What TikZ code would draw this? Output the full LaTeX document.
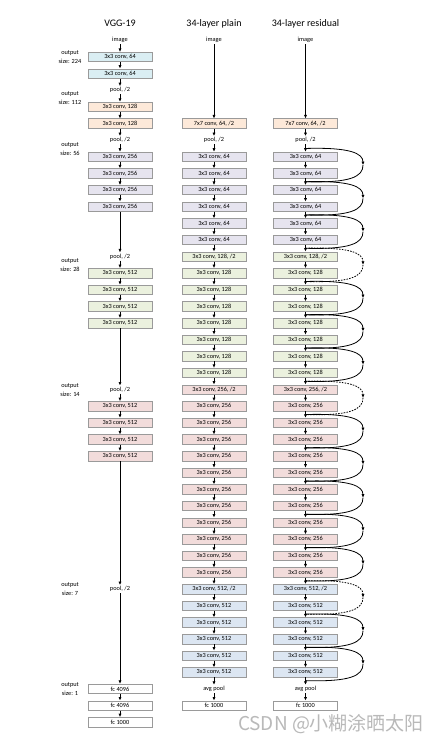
\documentclass[tikz,border=0pt]{standalone}
\usepackage{fontspec}
\setmainfont{Carlito}
\newfontfamily\cjkfont{Noto Sans CJK SC}
\usetikzlibrary{arrows.meta}
\definecolor{cblue}{HTML}{DAEEF3}
\definecolor{cbluetwo}{HTML}{DCE6F2}
\definecolor{cpeach}{HTML}{FDE9D9}
\definecolor{clav}{HTML}{E6E4EF}
\definecolor{cgreen}{HTML}{EBF1DE}
\definecolor{cpink}{HTML}{F2DCDB}
\definecolor{cline}{HTML}{9A9A9A}
\begin{document}
\begin{tikzpicture}[x=1pt,y=-16.63pt,
  box/.style={draw=cline, line width=0.6pt, minimum width=64pt, minimum height=9.5pt, inner sep=0pt, font=\fontsize{6.3}{7}\selectfont},
  txt/.style={inner sep=1.2pt, font=\fontsize{6.3}{7}\selectfont},
  arr/.style={-{Latex[length=3.5pt,width=3.2pt]}, line width=0.8pt},
  ttl/.style={font=\fontsize{10}{12}\selectfont},
  outl/.style={font=\fontsize{6.3}{9}\selectfont, align=center, inner sep=0pt},
  skiparr/.style={line width=0.8pt, -{Latex[length=3.5pt,width=3.2pt]}},
  skipline/.style={line width=0.8pt},
  dsh/.style={dash pattern=on 1.6pt off 1.2pt}]
\useasboundingbox[fill=white] (0,-3.4275) rectangle (440,41.251);

% titles
\node[ttl] (tv) at (120,-2) {VGG-19};
\node[ttl] (tp) at (214,-2) {34-layer plain};
\node[ttl] (tr) at (305.5,-2) {34-layer residual};

% output size labels
\node[outl] (o1) at (70,0) {output\\size: 224};
\node[outl] (o2) at (70,2.46) {output\\size: 112};
\node[outl] (o3) at (70,5.53) {output\\size: 56};
\node[outl] (o4) at (70,12.5) {output\\size: 28};
\node[outl] (o5) at (70,20) {output\\size: 14};
\node[outl] (o6) at (70,32) {output\\size: 7};
\node[outl] (o7) at (70,38) {output\\size: 1};

% VGG-19
\node[txt] (vimg) at (120,-1) {image};
\node[box,fill=cblue] (v0) at (120,0) {3x3 conv, 64};
\node[box,fill=cblue] (v1) at (120,1) {3x3 conv, 64};
\node[txt] (v2) at (120,2) {pool, /2};
\node[box,fill=cpeach] (v3) at (120,3) {3x3 conv, 128};
\node[box,fill=cpeach] (v4) at (120,4) {3x3 conv, 128};
\node[txt] (v5) at (120,5) {pool, /2};
\foreach \k in {6,...,9}{\node[box,fill=clav] (v\k) at (120,\k) {3x3 conv, 256};}
\node[txt] (v12) at (120,12) {pool, /2};
\foreach \k in {13,...,16}{\node[box,fill=cgreen] (v\k) at (120,\k) {3x3 conv, 512};}
\node[txt] (v20) at (120,20) {pool, /2};
\foreach \k in {21,...,24}{\node[box,fill=cpink] (v\k) at (120,\k) {3x3 conv, 512};}
\node[txt] (v32) at (120,32) {pool, /2};
\node[box,fill=white] (v38) at (120,38) {fc 4096};
\node[box,fill=white] (v39) at (120,39) {fc 4096};
\node[box,fill=white] (v40) at (120,40) {fc 1000};
\foreach \a/\b in {img/0,0/1,1/2,2/3,3/4,4/5,5/6,6/7,7/8,8/9,9/12,12/13,13/14,14/15,15/16,16/20,20/21,21/22,22/23,23/24,24/32,32/38,38/39,39/40}
  {\draw[arr] (v\a) -- (v\b);}

% plain and residual columns
\foreach \col/\x in {p/214, r/305.5}{
  \node[txt] (\col img) at (\x,-1) {image};
  \node[box,fill=cpeach] (\col4) at (\x,4) {7x7 conv, 64, /2};
  \node[txt] (\col5) at (\x,5) {pool, /2};
  \foreach \k in {6,...,11}{\node[box,fill=clav] (\col\k) at (\x,\k) {3x3 conv, 64};}
  \node[box,fill=cgreen] (\col12) at (\x,12) {3x3 conv, 128, /2};
  \foreach \k in {13,...,19}{\node[box,fill=cgreen] (\col\k) at (\x,\k) {3x3 conv, 128};}
  \node[box,fill=cpink] (\col20) at (\x,20) {3x3 conv, 256, /2};
  \foreach \k in {21,...,31}{\node[box,fill=cpink] (\col\k) at (\x,\k) {3x3 conv, 256};}
  \node[box,fill=cbluetwo] (\col32) at (\x,32) {3x3 conv, 512, /2};
  \foreach \k in {33,...,37}{\node[box,fill=cbluetwo] (\col\k) at (\x,\k) {3x3 conv, 512};}
  \node[txt] (\col38) at (\x,38) {avg pool};
  \node[box,fill=white] (\col39) at (\x,39) {fc 1000};
  \draw[arr] (\col img) -- (\col4);
  \foreach \k in {4,...,38}{\pgfmathtruncatemacro\n{\k+1}\draw[arr] (\col\k) -- (\col\n);}
}

% shortcut connections
\foreach \k/\st in {6/solid,8/solid,10/solid,12/dsh,14/solid,16/solid,18/solid,20/dsh,22/solid,24/solid,26/solid,28/solid,30/solid,32/dsh,34/solid,36/solid}{
  \coordinate (js\k) at (305.5,\k-0.5);
  \coordinate (jm\k) at (363,\k+0.5);
  \coordinate (je\k) at (305.5,\k+1.5);
  \draw[skiparr,\st] (js\k) .. controls ([shift={(45,-0.08)}]js\k) and ([shift={(0,-0.7)}]jm\k) .. (jm\k);
  \draw[skipline,\st] (jm\k) .. controls ([shift={(0,0.7)}]jm\k) and ([shift={(45,0.08)}]je\k) .. (je\k);
}

% watermark
\node[font=\cjkfont\fontsize{19}{20}\selectfont, text=gray!55, inner sep=0pt] (wm) at (331,40.1) {CSDN @小糊涂晒太阳};
\end{tikzpicture}
\end{document}
